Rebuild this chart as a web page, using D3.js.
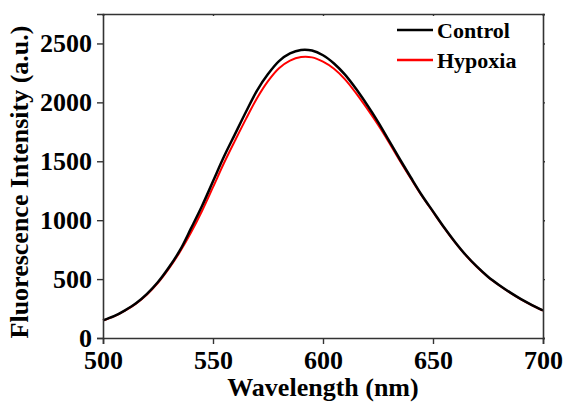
<!DOCTYPE html>
<html>
<head>
<meta charset="utf-8" />
<title>Fluorescence</title>
<script src="https://d3js.org/d3.v7.min.js"></script>
<style>
body { margin: 0; background: #fff; }
text { font-family: "Liberation Serif", "Times New Roman", serif; font-weight: bold; fill: #000; }
</style>
</head>
<body>
<script>

var wavelength = [500,505,510,515,520,525,530,535,540,545,550,555,560,565,570,575,580,585,590,595,
	600,605,610,615,620,625,630,635,640,645,650,655,660,665,670,675,680,685,690,695,700];

var control = [150,185,235,295,375,475,600,745,930,1120,1330,1540,1730,1920,2100,2240,2350,2415,2445,2440,
	2400,2330,2235,2115,1980,1835,1675,1515,1360,1210,1075,940,815,702,605,520,450,387,330,280,235];

var hypoxia = [148,183,232,292,370,468,590,732,895,1078,1280,1485,1675,1860,2035,2180,2290,2355,2385,2382,
	2345,2285,2195,2078,1948,1810,1660,1503,1352,1205,1070,937,812,700,602,518,448,385,328,278,232];

var xTicks = [500,550,600,650,700];
var yTicks = [0,500,1000,1500,2000,2500];
var seriesNames = ["Control","Hypoxia"];
var seriesColors = ["#000000","#ff0000"];

var W = 564, H = 403;
var margin = {top: 14, right: 21, bottom: 65, left: 103};

var svg = d3.select("body").append("svg")
	.attr("width", W)
	.attr("height", H);

var x = d3.scaleLinear().domain([500,700]).range([margin.left, W - margin.right]);
var y = d3.scaleLinear().domain([0,2750]).range([H - margin.bottom, margin.top]);

var line = d3.line()
	.x(function(d){ return x(d[0]); })
	.y(function(d){ return y(d[1]); })
	.curve(d3.curveCatmullRom);

// red first so black sits on top
svg.append("path")
	.datum(wavelength.map(function(w,i){ return [w, hypoxia[i]]; }))
	.attr("d", line)
	.attr("fill", "none")
	.attr("stroke", seriesColors[1])
	.attr("stroke-width", 2);

svg.append("path")
	.datum(wavelength.map(function(w,i){ return [w, control[i]]; }))
	.attr("d", line)
	.attr("fill", "none")
	.attr("stroke", seriesColors[0])
	.attr("stroke-width", 2.5);

// axes
var xAxis = svg.append("g")
	.attr("transform", "translate(0," + (H - margin.bottom) + ")")
	.call(d3.axisBottom(x).tickValues(xTicks).tickSize(6).tickPadding(7).tickFormat(d3.format("d")));

var yAxis = svg.append("g")
	.attr("transform", "translate(" + margin.left + ",0)")
	.call(d3.axisLeft(y).tickValues(yTicks).tickSize(6).tickPadding(5).tickFormat(d3.format("d")));

var xTop = svg.append("g")
	.attr("transform", "translate(0," + margin.top + ")")
	.call(d3.axisBottom(x).tickValues(xTicks).tickSize(2).tickFormat(""));

var yRight = svg.append("g")
	.attr("transform", "translate(" + (W - margin.right) + ",0)")
	.call(d3.axisRight(y).tickValues(yTicks).tickSize(2).tickFormat(""));

[xAxis, yAxis, xTop, yRight].forEach(function(g){
	g.select(".domain").attr("stroke", "#333").attr("stroke-width", 1.6);
	g.selectAll(".tick line").attr("stroke", "#333").attr("stroke-width", 1.4);
});

xAxis.selectAll(".tick text")
	.style("font-size", "26px")
	.style("font-family", "'Liberation Serif', serif")
	.style("font-weight", "bold");

yAxis.selectAll(".tick text")
	.style("font-size", "26px")
	.style("font-family", "'Liberation Serif', serif")
	.style("font-weight", "bold");

// axis titles
svg.append("text")
	.attr("x", (margin.left + W - margin.right) / 2)
	.attr("y", 396)
	.attr("text-anchor", "middle")
	.style("font-size", "26px")
	.text("Wavelength (nm)");

svg.append("text")
	.attr("transform", "translate(28," + 182 + ") rotate(-90)")
	.attr("text-anchor", "middle")
	.style("font-size", "26px")
	.text("Fluorescence Intensity (a.u.)");

// legend
var legend = svg.selectAll(".legend")
	.data(seriesNames)
	.enter()
	.append("g")
	.attr("transform", function(d,i){ return "translate(397," + (30 + i*30) + ")"; });

legend.append("line")
	.attr("x1", 0).attr("x2", 36)
	.attr("y1", 0).attr("y2", 0)
	.attr("stroke", function(d,i){ return seriesColors[i]; })
	.attr("stroke-width", 2.5);

legend.append("text")
	.attr("x", 40)
	.attr("y", 8)
	.style("font-size", "22px")
	.text(function(d){ return d; });

</script>
</body>
</html>
